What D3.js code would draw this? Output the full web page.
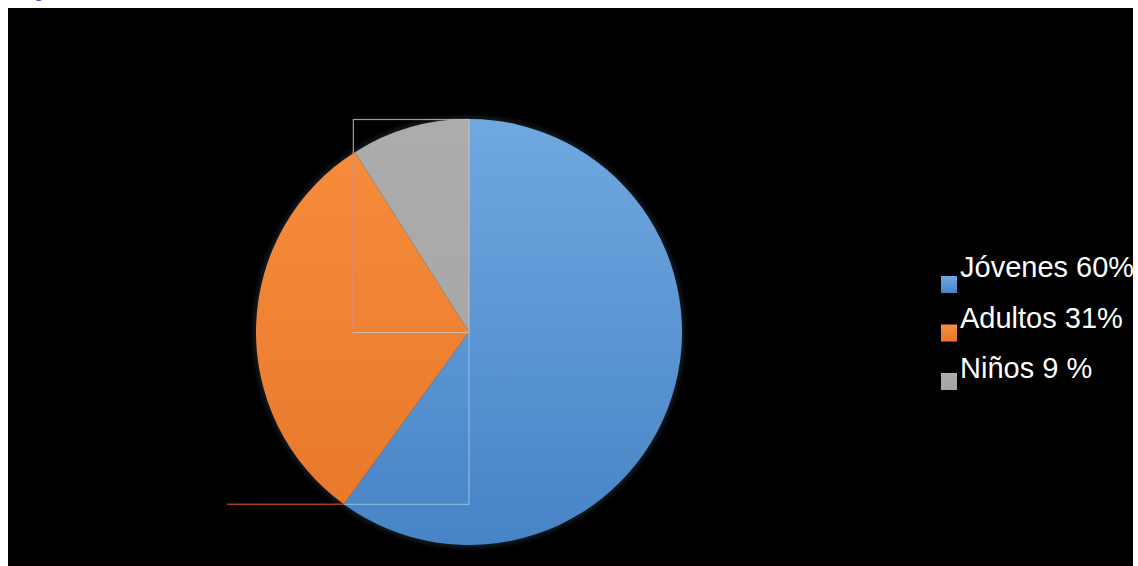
<!DOCTYPE html>
<html>
<head>
<meta charset="utf-8">
<script src="https://cdn.jsdelivr.net/npm/d3@7"></script>
<style>
  html, body { margin: 0; padding: 0; background: #ffffff; }
  svg { display: block; }
</style>
</head>
<body>
<svg id="chart" width="1138" height="566"></svg>
<script>
// ---- data ----
const categories = ["Jóvenes", "Adultos", "Niños"];
const values = [60, 31, 9];
const legendLabels = ["Jóvenes 60%", "Adultos 31%", "Niños 9 %"];
const colorsTop = ["#70a8e0", "#f78d3d", "#acacac"];
const colorsBottom = ["#4784c6", "#e7772a", "#a4a4a4"];

(function () {
const svg = d3.select("#chart");

// caption fragment at the very top (cut off in the original)
svg.append("text")
  .attr("x", 22).attr("y", -3)
  .attr("font-family", "Liberation Serif, serif")
  .attr("font-size", 16)
  .attr("font-style", "italic")
  .attr("fill", "#2f5597")
  .text("Fig");

// black plot area
svg.append("rect")
  .attr("x", 8).attr("y", 8)
  .attr("width", 1125).attr("height", 558)
  .attr("fill", "#000");

const cx = 469, cy = 332, r = 213;
const defs = svg.append("defs");
categories.forEach((c, i) => {
  const g = defs.append("linearGradient")
    .attr("id", "grad" + i)
    .attr("gradientUnits", "userSpaceOnUse")
    .attr("x1", 0).attr("y1", -r).attr("x2", 0).attr("y2", r);
  g.append("stop").attr("offset", "0%").attr("stop-color", colorsTop[i]);
  g.append("stop").attr("offset", "100%").attr("stop-color", colorsBottom[i]);
  const lg = defs.append("linearGradient").attr("id", "lg" + i)
    .attr("x1", 0).attr("y1", 0).attr("x2", 0).attr("y2", 1);
  lg.append("stop").attr("offset", "0%").attr("stop-color", colorsTop[i]);
  lg.append("stop").attr("offset", "100%").attr("stop-color", colorsBottom[i]);
});
const blur = defs.append("filter").attr("id", "soft")
  .attr("x", "-10%").attr("y", "-10%").attr("width", "120%").attr("height", "120%");
blur.append("feGaussianBlur").attr("stdDeviation", 3);

const pie = d3.pie().sort(null).value(d => d)(values);
const arc = d3.arc().innerRadius(0).outerRadius(r);

const gPie = svg.append("g").attr("transform", `translate(${cx},${cy})`);

// soft dark rim
gPie.append("circle").attr("r", r + 1.5)
  .attr("fill", "#1a2630").attr("filter", "url(#soft)");

gPie.selectAll("path.slice")
  .data(pie)
  .join("path")
  .attr("class", "slice")
  .attr("d", arc)
  .attr("fill", (d, i) => `url(#grad${i})`);

// helper lines (construction artifacts of the original figure)
const aGray = pie[2].startAngle;   // start of Niños slice
const aOrange = pie[1].startAngle; // start of Adultos slice
const xGray = cx + r * Math.sin(aGray);
const yOrange = cy - r * Math.cos(aOrange);
const yTop = cy - r;

const lines = svg.append("g").attr("fill", "none");
lines.append("rect")
  .attr("x", xGray - 1.5).attr("y", yTop + 0.5)
  .attr("width", cx - xGray + 1.5).attr("height", cy - yTop)
  .attr("stroke", "#c4c4c4").attr("stroke-width", 1.2).attr("opacity", 0.8);
lines.append("line")
  .attr("x1", xGray - 1.5).attr("x2", xGray - 1.5)
  .attr("y1", yTop + 32).attr("y2", cy)
  .attr("stroke", "#c86ad8").attr("stroke-width", 1.2).attr("opacity", 0.8);
lines.append("line")
  .attr("x1", cx).attr("x2", cx)
  .attr("y1", cy).attr("y2", yOrange)
  .attr("stroke", "#9cc6e6").attr("stroke-width", 1.2).attr("opacity", 0.8);
const xLeftEdge = cx - Math.sqrt(r * r - (yOrange - cy) * (yOrange - cy));
lines.append("line")
  .attr("x1", xLeftEdge).attr("x2", cx)
  .attr("y1", yOrange).attr("y2", yOrange)
  .attr("stroke", "#8ec0e0").attr("stroke-width", 1.2).attr("opacity", 0.8);
lines.append("line")
  .attr("x1", cx - r * 1.136).attr("x2", xLeftEdge)
  .attr("y1", yOrange).attr("y2", yOrange)
  .attr("stroke", "#a8401a").attr("stroke-width", 1.4);

// legend
const legend = svg.append("g");
const lx = 941, sq0 = 276, sqStep = 48.5, tx0 = 277, txStep = 50.5;
legendLabels.forEach((lab, i) => {
  legend.append("rect")
    .attr("x", lx).attr("y", sq0 + i * sqStep)
    .attr("width", 16).attr("height", 17)
    .attr("fill", `url(#lg${i})`);
  legend.append("text")
    .attr("x", lx + 19).attr("y", tx0 + i * txStep)
    .attr("font-family", "Liberation Sans, Arial, sans-serif")
    .attr("font-size", 29)
    .attr("fill", "#ffffff")
    .text(lab);
});
})();
</script>
</body>
</html>
